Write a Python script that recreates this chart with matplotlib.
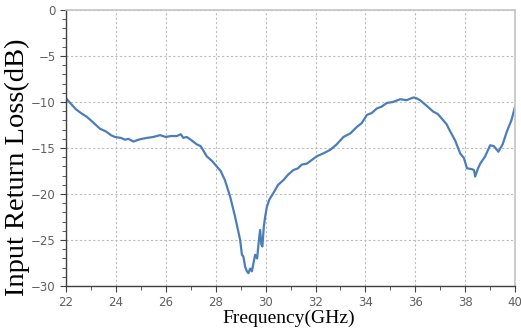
import numpy as np
import matplotlib.pyplot as plt
from matplotlib.ticker import MultipleLocator

# values
freq_ghz = [22.0, 22.2, 22.4, 22.6, 22.83, 23.0, 23.2, 23.36, 23.6, 23.8, 23.96,
            24.2, 24.37, 24.5, 24.7, 24.9, 25.05, 25.24, 25.5, 25.77, 26.0, 26.2,
            26.44, 26.6, 26.7, 26.84, 27.0, 27.24, 27.4, 27.64, 27.85, 28.04, 28.2,
            28.37, 28.58, 28.78, 28.98, 29.05, 29.11, 29.18, 29.25, 29.31, 29.38,
            29.45, 29.58, 29.66, 29.72, 29.78, 29.83, 29.87, 29.93, 29.98, 30.05,
            30.15, 30.31, 30.5, 30.71, 30.9, 31.11, 31.3, 31.45, 31.65, 31.85,
            32.05, 32.3, 32.59, 32.85, 33.12, 33.4, 33.66, 33.85, 34.06, 34.25,
            34.46, 34.65, 34.86, 35.1, 35.39, 35.65, 35.93, 36.05, 36.19, 36.45,
            36.72, 36.9, 37.06, 37.25, 37.4, 37.6, 37.8, 37.95, 38.07, 38.27,
            38.35, 38.4, 38.5, 38.6, 38.8, 39.0, 39.15, 39.33, 39.5, 39.67, 39.85,
            40.0]
s11_db = [-9.6, -10.2, -10.8, -11.2, -11.6, -12.0, -12.5, -12.9, -13.2, -13.6, -13.8,
          -13.9, -14.1, -14.0, -14.3, -14.1, -14.0, -13.9, -13.8, -13.6, -13.8, -13.7,
          -13.7, -13.5, -13.9, -13.8, -14.1, -14.6, -14.8, -15.9, -16.4, -17.0, -17.5,
          -18.5, -20.3, -22.5, -25.0, -26.6, -26.8, -27.9, -28.4, -28.6, -28.1,
          -28.4, -26.6, -27.0, -25.3, -23.9, -25.5, -25.7, -23.5, -22.5, -21.4,
          -20.6, -19.9, -19.0, -18.5, -17.9, -17.4, -17.2, -16.8, -16.7, -16.3,
          -15.9, -15.6, -15.2, -14.6, -13.8, -13.4, -12.7, -12.3, -11.4, -11.2,
          -10.7, -10.5, -10.1, -10.0, -9.7, -9.8, -9.5, -9.6, -9.8, -10.4,
          -11.05, -11.3, -11.8, -12.4, -13.2, -14.2, -15.6, -16.1, -17.2, -17.3,
          -17.4, -18.1, -17.3, -16.7, -15.9, -14.7, -14.8, -15.4, -14.6, -13.2, -12.0,
          -10.5]

x_ticks = np.arange(22, 41, 2)
y_ticks = np.arange(-30, 1, 5)

fig = plt.figure(figsize=(5.21, 3.33), dpi=100)
ax = fig.add_axes([0.1267, 0.141, 0.862, 0.829])

ax.plot(freq_ghz, s11_db, color="#4a7ebb", linewidth=1.6)

ax.set_xlim(22, 40)
ax.set_ylim(-30, 0)
ax.set_xticks(x_ticks)
ax.set_yticks(y_ticks)
ax.xaxis.set_minor_locator(MultipleLocator(1))
ax.yaxis.set_minor_locator(MultipleLocator(1))

ax.grid(True, which="major", color="#bdbdbd", linestyle=(0, (2, 2)), linewidth=0.8)
for side in ["top", "right"]:
    ax.spines[side].set_color("#c4c4c4")
    ax.spines[side].set_linewidth(1.2)
for side in ["left", "bottom"]:
    ax.spines[side].set_color("#404040")
    ax.spines[side].set_linewidth(1.0)

ax.tick_params(which="both", direction="out", colors="#404040", labelcolor="#606060",
               labelsize=8.5, top=False, right=False)
ax.tick_params(which="major", length=4)
ax.tick_params(which="minor", length=3)

ax.set_xlabel("Frequency(GHz)", family="Liberation Serif", fontsize=14, color="black")
ax.xaxis.set_label_coords(0.496, -0.087)
ax.set_ylabel("Input Return Loss(dB)", family="Liberation Serif", fontsize=20.5,
              color="black")
ax.yaxis.set_label_coords(-0.08, 0.43)

fig.savefig("out.png", dpi=100)
